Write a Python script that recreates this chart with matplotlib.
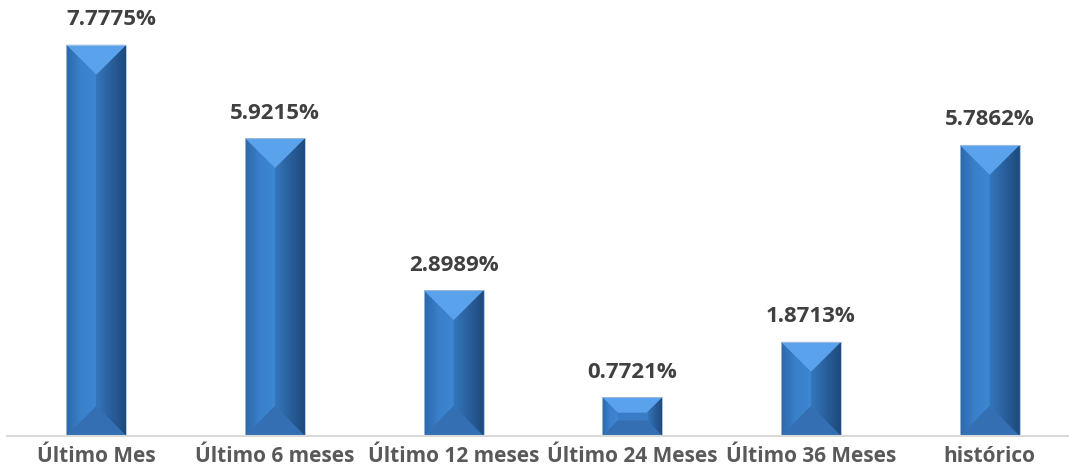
import numpy as np
import matplotlib.pyplot as plt
from matplotlib.patches import Polygon
from matplotlib.colors import LinearSegmentedColormap

categories = ['Último Mes', 'Último 6 meses', 'Último 12 meses',
              'Último 24 Meses', 'Último 36 Meses', 'histórico']
values = [7.7775, 5.9215, 2.8989, 0.7721, 1.8713, 5.7862]
labels = ['7.7775%', '5.9215%', '2.8989%', '0.7721%', '1.8713%', '5.7862%']

W, H = 1069, 468
fig = plt.figure(figsize=(W / 100, H / 100), dpi=100)
ax = fig.add_axes([7 / W, 32 / H, 1072 / W, 0.9136])

ymax = 8.5
ax.set_xlim(-0.5, len(categories) - 0.5)
ax.set_ylim(0, ymax)

bar_w = 0.335
# base fill so no white seams show between the bevel faces
bars = ax.bar(range(len(values)), values, width=bar_w, color='#3676bc', zorder=1.5)

# pixels per data unit (fixed axes position)
px_x = 1072 / len(categories)
px_y = (0.9136 * H) / ymax

left_cmap = LinearSegmentedColormap.from_list('l', ['#2c69ab', '#3a80cb', '#3d86d1'])
right_cmap = LinearSegmentedColormap.from_list('r', ['#3476bb', '#2a5f9c', '#1e4a7c'])

for b in bars:
    x0 = b.get_x()
    x1 = x0 + b.get_width()
    top = b.get_height()
    w_px = b.get_width() * px_x
    h_px = top * px_y
    d_px = min(w_px / 2, 0.4 * h_px)
    dx = d_px / px_x
    dy = d_px / px_y

    # left face with gradient
    lf = Polygon([(x0, 0), (x0 + dx, dy), (x0 + dx, top - dy), (x0, top)],
                 closed=True, facecolor='none', edgecolor='none')
    ax.add_patch(lf)
    im = ax.imshow(np.linspace(0, 1, 50).reshape(1, -1), cmap=left_cmap,
                   extent=(x0, x0 + dx, 0, top), aspect='auto', zorder=2)
    im.set_clip_path(lf)

    # right face with gradient
    rf = Polygon([(x1, 0), (x1, top), (x1 - dx, top - dy), (x1 - dx, dy)],
                 closed=True, facecolor='none', edgecolor='none')
    ax.add_patch(rf)
    im = ax.imshow(np.linspace(0, 1, 50).reshape(1, -1), cmap=right_cmap,
                   extent=(x1 - dx, x1, 0, top), aspect='auto', zorder=2)
    im.set_clip_path(rf)

    # center flat face (short bars)
    if x1 - dx > x0 + dx + 1e-9:
        ax.add_patch(Polygon([(x0 + dx, dy), (x1 - dx, dy), (x1 - dx, top - dy),
                              (x0 + dx, top - dy)], closed=True,
                             facecolor='#3a7dc6', edgecolor='#3a7dc6',
                             linewidth=0.5, zorder=2.5))

    # top and bottom bevels
    ax.add_patch(Polygon([(x0, top), (x1, top), (x1 - dx, top - dy), (x0 + dx, top - dy)],
                         closed=True, facecolor='#5ba2ec', edgecolor='none', zorder=3))
    ax.add_patch(Polygon([(x0, 0), (x1, 0), (x1 - dx, dy), (x0 + dx, dy)],
                         closed=True, facecolor='#336fb2', edgecolor='none', zorder=3))
    # thin edge
    ax.add_patch(Polygon([(x0, 0), (x1, 0), (x1, top), (x0, top)], closed=True,
                         facecolor='none', edgecolor='#a9bfd8', linewidth=0.6, zorder=3.5))

# value labels
offsets = [0.085, 0, 0, 0, 0, 0]
for i, (v, lab) in enumerate(zip(values, labels)):
    ax.text(i + offsets[i], v + 25 / px_y, lab, ha='center', va='center',
            fontsize=16, fontweight='bold', color='#404040', family='Open Sans')

ax.set_xticks(range(len(categories)))
ax.set_xticklabels(categories, fontsize=15, fontweight='bold', color='#595959',
                   family='Open Sans')
ax.tick_params(axis='x', length=0, pad=7)
ax.set_yticks([])
for s in ['top', 'right', 'left']:
    ax.spines[s].set_visible(False)
ax.spines['bottom'].set_color('#d9d9d9')
ax.spines['bottom'].set_linewidth(1.5)
ax.spines['bottom'].set_zorder(4)

fig.savefig('out.png', dpi=100)
